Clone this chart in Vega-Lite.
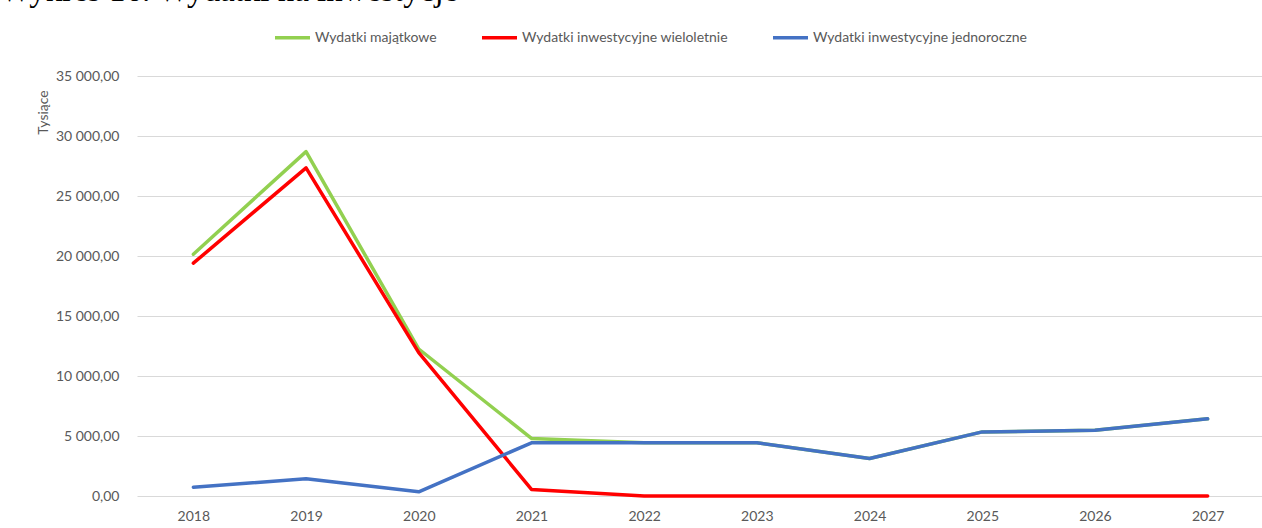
{
  "$schema": "https://vega.github.io/schema/vega-lite/v6.json",
  "autosize": "none",
  "width": 1127,
  "height": 420,
  "padding": {"left": 137, "top": 76, "right": 0, "bottom": 32},
  "background": "white",
  "title": {
    "text": "Wykres 16. Wydatki na inwestycje",
    "font": "Liberation Serif",
    "fontSize": 33,
    "fontWeight": "normal",
    "color": "#000000",
    "anchor": "start",
    "frame": "group",
    "baseline": "alphabetic",
    "dx": -137,
    "offset": 0,
    "dy": 16
  },
  "config": {
    "locale": {"number": {"decimal": ",", "thousands": " ", "grouping": [3], "currency": ["", " zł"]}},
    "view": {"stroke": null},
    "font": "Lato"
  },
  "data": {
    "values": [
      {"rok": "2018", "seria": "Wydatki majątkowe", "wartosc": 20150},
      {"rok": "2019", "seria": "Wydatki majątkowe", "wartosc": 28700},
      {"rok": "2020", "seria": "Wydatki majątkowe", "wartosc": 12250},
      {"rok": "2021", "seria": "Wydatki majątkowe", "wartosc": 4800},
      {"rok": "2022", "seria": "Wydatki majątkowe", "wartosc": 4440},
      {"rok": "2023", "seria": "Wydatki majątkowe", "wartosc": 4430},
      {"rok": "2024", "seria": "Wydatki majątkowe", "wartosc": 3120},
      {"rok": "2025", "seria": "Wydatki majątkowe", "wartosc": 5340},
      {"rok": "2026", "seria": "Wydatki majątkowe", "wartosc": 5480},
      {"rok": "2027", "seria": "Wydatki majątkowe", "wartosc": 6430},
      {"rok": "2018", "seria": "Wydatki inwestycyjne wieloletnie", "wartosc": 19400},
      {"rok": "2019", "seria": "Wydatki inwestycyjne wieloletnie", "wartosc": 27350},
      {"rok": "2020", "seria": "Wydatki inwestycyjne wieloletnie", "wartosc": 11950},
      {"rok": "2021", "seria": "Wydatki inwestycyjne wieloletnie", "wartosc": 550},
      {"rok": "2022", "seria": "Wydatki inwestycyjne wieloletnie", "wartosc": 0},
      {"rok": "2023", "seria": "Wydatki inwestycyjne wieloletnie", "wartosc": 0},
      {"rok": "2024", "seria": "Wydatki inwestycyjne wieloletnie", "wartosc": 0},
      {"rok": "2025", "seria": "Wydatki inwestycyjne wieloletnie", "wartosc": 0},
      {"rok": "2026", "seria": "Wydatki inwestycyjne wieloletnie", "wartosc": 0},
      {"rok": "2027", "seria": "Wydatki inwestycyjne wieloletnie", "wartosc": 0},
      {"rok": "2018", "seria": "Wydatki inwestycyjne jednoroczne", "wartosc": 730},
      {"rok": "2019", "seria": "Wydatki inwestycyjne jednoroczne", "wartosc": 1430},
      {"rok": "2020", "seria": "Wydatki inwestycyjne jednoroczne", "wartosc": 350},
      {"rok": "2021", "seria": "Wydatki inwestycyjne jednoroczne", "wartosc": 4430},
      {"rok": "2022", "seria": "Wydatki inwestycyjne jednoroczne", "wartosc": 4430},
      {"rok": "2023", "seria": "Wydatki inwestycyjne jednoroczne", "wartosc": 4430},
      {"rok": "2024", "seria": "Wydatki inwestycyjne jednoroczne", "wartosc": 3120},
      {"rok": "2025", "seria": "Wydatki inwestycyjne jednoroczne", "wartosc": 5340},
      {"rok": "2026", "seria": "Wydatki inwestycyjne jednoroczne", "wartosc": 5480},
      {"rok": "2027", "seria": "Wydatki inwestycyjne jednoroczne", "wartosc": 6430}
    ]
  },
  "mark": {"type": "line", "strokeWidth": 3.5, "strokeCap": "round", "strokeJoin": "round"},
  "encoding": {
    "x": {
      "field": "rok",
      "type": "ordinal",
      "sort": null,
      "scale": {"type": "point", "padding": 0.5},
      "axis": {
        "title": null,
        "domain": false,
        "ticks": false,
        "grid": false,
        "labelAngle": 0,
        "labelFont": "Lato",
        "labelFontSize": 14,
        "labelColor": "#595959",
        "labelPadding": 13
      }
    },
    "y": {
      "field": "wartosc",
      "type": "quantitative",
      "scale": {"domain": [0, 35000], "nice": false},
      "axis": {
        "values": [0, 5000, 10000, 15000, 20000, 25000, 30000, 35000],
        "format": ",.2f",
        "domain": false,
        "ticks": false,
        "grid": true,
        "gridColor": "#d9d9d9",
        "gridWidth": 1,
        "labelFont": "Lato",
        "labelFontSize": 14,
        "labelColor": "#595959",
        "labelPadding": 18,
        "title": "Tysiące",
        "titleFont": "Lato",
        "titleFontSize": 14,
        "titleFontWeight": "normal",
        "titleColor": "#595959",
        "titleAngle": -90,
        "titleX": -94,
        "titleY": 36,
        "titleAlign": "center",
        "titleBaseline": "middle"
      }
    },
    "color": {
      "field": "seria",
      "type": "nominal",
      "sort": null,
      "scale": {
        "domain": ["Wydatki majątkowe", "Wydatki inwestycyjne wieloletnie", "Wydatki inwestycyjne jednoroczne"],
        "range": ["#92D050", "#FF0000", "#4472C4"]
      },
      "legend": {
        "title": null,
        "orient": "none",
        "direction": "horizontal",
        "legendX": 136,
        "legendY": -58,
        "symbolType": "stroke",
        "symbolSize": 1225,
        "symbolStrokeWidth": 3.5,
        "labelFont": "Lato",
        "labelFontSize": 14,
        "labelColor": "#595959",
        "labelOffset": 3,
        "columnPadding": 38,
        "labelLimit": 400
      }
    }
  }
}
